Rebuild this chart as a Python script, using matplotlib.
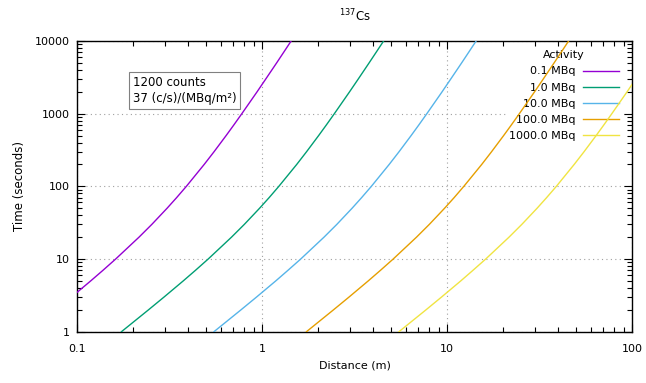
import matplotlib
matplotlib.use("Agg")
import matplotlib.pyplot as plt
from matplotlib.ticker import LogLocator, NullFormatter, FixedLocator, FixedFormatter

# time needed (s)
times = [1, 2, 3, 5, 7, 10, 20, 30, 50, 70, 100, 200, 300, 500, 700,
         1000, 2000, 3000, 5000, 7000, 10000]

# distance (m) at which each curve reaches those times
dist_01 = [0.0550, 0.0770, 0.0934, 0.1186, 0.1382, 0.1618, 0.2164, 0.2539, 0.3069, 0.3456, 0.3900,
           0.4868, 0.5508, 0.6399, 0.7044, 0.7781, 0.9406, 1.048, 1.200, 1.310, 1.437]
dist_1 = [0.1739, 0.2435, 0.2955, 0.3752, 0.4371, 0.5118, 0.6843, 0.8029, 0.9705, 1.093, 1.233,
          1.540, 1.742, 2.024, 2.228, 2.461, 2.974, 3.314, 3.793, 4.141, 4.543]
dist_10 = [0.5499, 0.7700, 0.9345, 1.187, 1.382, 1.619, 2.164, 2.539, 3.069, 3.456, 3.900,
           4.868, 5.508, 6.399, 7.044, 7.781, 9.406, 10.48, 12.00, 13.10, 14.37]
dist_100 = [1.739, 2.435, 2.955, 3.752, 4.371, 5.118, 6.843, 8.029, 9.705, 10.93, 12.33,
            15.40, 17.42, 20.24, 22.28, 24.61, 29.74, 33.14, 37.93, 41.41, 45.43]
dist_1000 = [5.499, 7.700, 9.345, 11.87, 13.82, 16.19, 21.64, 25.39, 30.69, 34.56, 39.00,
             48.68, 55.08, 63.99, 70.44, 77.81, 94.06, 104.8, 119.9, 130.9, 143.7]

labels = ["0.1 MBq", "1.0 MBq", "10.0 MBq", "100.0 MBq", "1000.0 MBq"]
colors = ["#9400d3", "#009e73", "#56b4e9", "#e69f00", "#f0e442"]

x_ticks = [0.1, 1, 10, 100]
x_labels = ["0.1", "1", "10", "100"]
y_ticks = [1, 10, 100, 1000, 10000]
y_labels = ["1", "10", "100", "1000", "10000"]

plt.rcParams["font.family"] = "DejaVu Sans"
plt.rcParams["font.size"] = 8

fig = plt.figure(figsize=(6.46, 3.83), dpi=100)
ax = fig.add_axes([77 / 646, 1 - 331.7 / 383, 555 / 646, 290.7 / 383])

for d, lab, c in zip([dist_01, dist_1, dist_10, dist_100, dist_1000], labels, colors):
    ax.plot(d, times, color=c, lw=1.0, label=lab, zorder=3)

ax.set_xscale("log")
ax.set_yscale("log")
ax.set_xlim(0.1, 100)
ax.set_ylim(1, 10000)

ax.xaxis.set_major_locator(FixedLocator(x_ticks))
ax.xaxis.set_major_formatter(FixedFormatter(x_labels))
ax.yaxis.set_major_locator(FixedLocator(y_ticks))
ax.yaxis.set_major_formatter(FixedFormatter(y_labels))
ax.xaxis.set_minor_locator(LogLocator(base=10, subs=range(2, 10)))
ax.yaxis.set_minor_locator(LogLocator(base=10, subs=range(2, 10)))
ax.xaxis.set_minor_formatter(NullFormatter())
ax.yaxis.set_minor_formatter(NullFormatter())

ax.tick_params(which="both", direction="in", top=True, right=True, width=0.8)
ax.tick_params(which="major", length=6)
ax.tick_params(which="minor", length=3.5)
ax.tick_params(axis="x", which="major", pad=8.5)
ax.tick_params(axis="y", which="major", pad=5.5)
for s in ax.spines.values():
    s.set_linewidth(1.0)

ax.set_axisbelow(True)
ax.grid(True, which="major", color="#a0a0a0", linestyle=(0, (1, 3)), lw=0.8)

ax.set_title(r"$^{137}$Cs", pad=14, fontsize=8.5)
ax.set_xlabel("Distance (m)", labelpad=5)
ax.set_ylabel("Time (seconds)", labelpad=6, fontsize=8.5)

leg = ax.legend(title="Activity", loc="upper right", markerfirst=False,
                bbox_to_anchor=(622 / 646, 1 - 47 / 383), bbox_transform=fig.transFigure,
                frameon=True, fancybox=False, framealpha=1, facecolor="white", edgecolor="none",
                handlelength=3.25, handletextpad=0.6, labelspacing=0.55, borderpad=0.3,
                borderaxespad=0)
leg.set_zorder(1.5)

fig.text(133 / 646, 1 - 76 / 383, "1200 counts\n37 (c/s)/(MBq/m²)", ha="left", va="top",
         fontsize=8.5, linespacing=1.3,
         bbox=dict(boxstyle="square,pad=0.3", fc="white", ec="#808080", lw=0.8))

fig.savefig("out.png", dpi=100)
